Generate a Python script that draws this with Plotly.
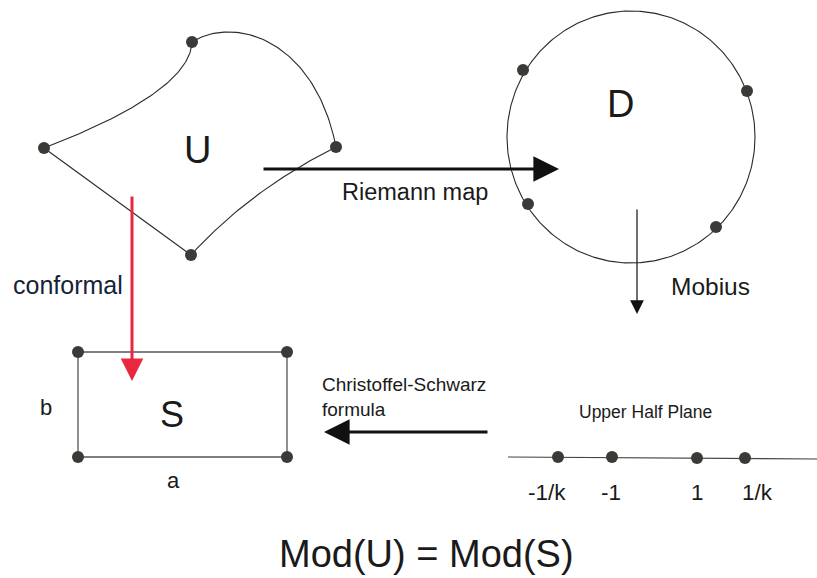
import numpy as np
import plotly.graph_objects as go
from math import comb

# ---- data (diagram coordinates in pixel space) ----
u_nodes_x = [44, 192, 336, 191]
u_nodes_y = [148, 42, 147, 255]
# bezier control points for the edges of U
edge_left_top = [(44, 148), (190, 92), (192, 42)]
edge_top_right = [(192, 42), (235, 15), (315, 40), (336, 147)]
edge_right_bottom = [(336, 147), (250, 190), (191, 255)]
edge_bottom_left = [(191, 255), (44, 148)]

circle_center = (631, 137)
circle_radius = 124
d_nodes_x = [523, 747, 528, 716]
d_nodes_y = [70, 91, 204, 227]

rect_x = [78, 287, 287, 78, 78]
rect_y = [352, 352, 457, 457, 352]

half_line_x = [508, 817]
half_line_y = [457, 459]
half_nodes_x = [558, 612, 697, 745]
half_nodes_y = [457, 457, 458, 458]
half_labels = ["-1/k", "-1", "1", "1/k"]
half_label_x = [547, 611, 697, 757]

FONT = "Liberation Sans, Arial, sans-serif"
NODE = "#383b36"
LINE = "#2a2a2a"


def bezier(pts, n=80):
    t = np.linspace(0, 1, n)[:, None]
    p = np.array(pts, dtype=float)
    k = len(p) - 1
    out = sum(comb(k, i) * (1 - t) ** (k - i) * t ** i * p[i] for i in range(k + 1))
    return out[:, 0], out[:, 1]


fig = go.Figure()

for e in [edge_left_top, edge_top_right, edge_right_bottom, edge_bottom_left]:
    x, y = bezier(e)
    fig.add_trace(go.Scatter(x=x, y=y, mode="lines", line=dict(color=LINE, width=1.1),
                             hoverinfo="skip", showlegend=False))

th = np.linspace(0, 2 * np.pi, 300)
fig.add_trace(go.Scatter(x=circle_center[0] + circle_radius * np.cos(th),
                         y=circle_center[1] + (circle_radius + 2) * np.sin(th),
                         mode="lines", line=dict(color=LINE, width=1.1),
                         hoverinfo="skip", showlegend=False))

fig.add_trace(go.Scatter(x=rect_x, y=rect_y, mode="lines",
                         line=dict(color="#555555", width=1.3),
                         hoverinfo="skip", showlegend=False))

fig.add_trace(go.Scatter(x=half_line_x, y=half_line_y, mode="lines",
                         line=dict(color="#444444", width=1.2),
                         hoverinfo="skip", showlegend=False))

for xs, ys in [(u_nodes_x, u_nodes_y), (d_nodes_x, d_nodes_y),
               (rect_x[:4], rect_y[:4]), (half_nodes_x, half_nodes_y)]:
    fig.add_trace(go.Scatter(x=xs, y=ys, mode="markers",
                             marker=dict(color=NODE, size=12, line=dict(width=0)),
                             hoverinfo="skip", showlegend=False))

arrows = [
    # (x_from, y_from, x_to, y_to, color, width, size)
    (262, 169, 559, 169, "#111111", 3.2, 1.6),
    (132, 195, 132, 381, "#e8283e", 3.0, 1.5),
    (637, 208, 637, 314, "#111111", 1.2, 2.3),
    (489, 432, 324, 432, "#111111", 3.2, 1.6),
]
for x0, y0, x1, y1, c, w, s in arrows:
    fig.add_annotation(x=x1, y=y1, ax=x0, ay=y0, xref="x", yref="y", axref="x", ayref="y",
                       showarrow=True, arrowhead=2, arrowsize=s, arrowwidth=w,
                       arrowcolor=c, text="")

texts = [
    ("U", 197, 150, 38, "#1a1a1a"),
    ("D", 620, 104, 38, "#1a1a1a"),
    ("S", 172, 414, 36, "#1a1a1a"),
    ("Riemann map", 415, 192, 23.5, "#1a1a1a"),
    ("Mobius", 710, 286, 24.5, "#1a1a1a"),
    ("conformal", 68, 285, 25, "#14233a"),
    ("b", 46, 407, 22, "#1a1a1a"),
    ("a", 173, 480, 22, "#1a1a1a"),
    ("Upper Half Plane", 645, 412, 17.5, "#1a1a1a"),
    ("Mod(U) = Mod(S)", 426, 554, 38, "#1a1a1a"),
]
for t, x, y, s, c in texts:
    fig.add_annotation(x=x, y=y, xref="x", yref="y", text=t, showarrow=False,
                       font=dict(family=FONT, size=s, color=c), xanchor="center", yanchor="middle")

fig.add_annotation(x=320, y=397, xref="x", yref="y",
                   text="Christoffel-Schwarz<br>formula", showarrow=False, align="left",
                   font=dict(family=FONT, size=19, color="#1a1a1a"),
                   xanchor="left", yanchor="middle")

for lab, x in zip(half_labels, half_label_x):
    fig.add_annotation(x=x, y=492, xref="x", yref="y", text=lab, showarrow=False,
                       font=dict(family=FONT, size=22.5, color="#1a1a1a"),
                       xanchor="center", yanchor="middle")

fig.update_layout(width=817, height=578, margin=dict(l=0, r=0, t=0, b=0),
                  paper_bgcolor="white", plot_bgcolor="white",
                  xaxis=dict(range=[0, 817], visible=False, fixedrange=True),
                  yaxis=dict(range=[578, 0], visible=False, fixedrange=True))

fig.write_html("out.html", config={"displayModeBar": False},
               post_script="document.body.style.margin='0';document.body.style.overflow='hidden';")
